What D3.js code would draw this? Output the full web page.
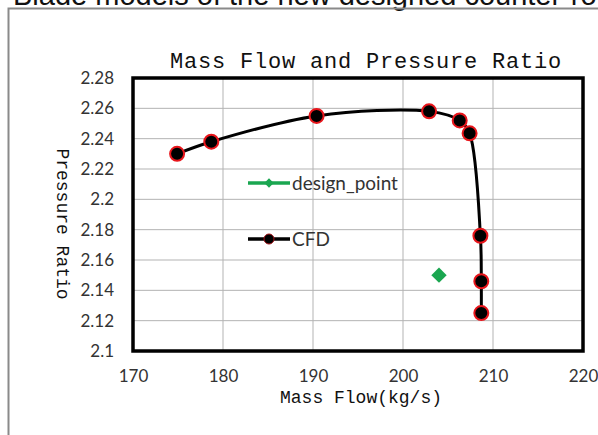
<!DOCTYPE html>
<html>
<head>
<meta charset="utf-8">
<script src="https://cdn.jsdelivr.net/npm/d3@7"></script>
<style>
  body { margin: 0; background: #fff; overflow: hidden; }
  .tick-label { font-family: Lato, "Open Sans", sans-serif; font-size: 17px; fill: #333; }
  .legend-label { font-family: Lato, "Open Sans", sans-serif; font-size: 19px; fill: #333; }
  .mono { font-family: "Liberation Mono", "DejaVu Sans Mono", monospace; fill: #111; }
</style>
</head>
<body>
<script>
let width = 598,
    height = 435;

// CFD operating line
let cfdFlow = [174.9, 178.7, 190.4, 202.9, 206.3, 207.4, 208.6, 208.7, 208.7];
let cfdRatio = [2.230, 2.238, 2.255, 2.258, 2.252, 2.2435, 2.176, 2.146, 2.125];

let designFlow = [204];
let designRatio = [2.15];

let xTicks = [170, 180, 190, 200, 210, 220];
let yTicks = [2.1, 2.12, 2.14, 2.16, 2.18, 2.2, 2.22, 2.24, 2.26, 2.28];

let margin = {left: 133, top: 78, right: 15, bottom: 84};

let svg = d3.select('body').append('svg')
    .attr('width', width)
    .attr('height', height);

// page header that the crop cuts through
svg.append('text')
    .attr('x', 13)
    .attr('y', 5)
    .style('font-family', '"Liberation Sans", Arial, sans-serif')
    .style('font-size', '29px')
    .attr('fill', '#111')
    .text('Blade models of the new designed counter-rotating');

// outer chart frame
svg.append('path')
    .attr('d', 'M8.5,' + height + ' V8.5 H' + width)
    .attr('fill', 'none')
    .attr('stroke', '#8a8a8a')
    .attr('stroke-width', 2);

let x = d3.scaleLinear().domain([170, 220]).range([margin.left, width - margin.right]);
let y = d3.scaleLinear().domain([2.1, 2.28]).range([height - margin.bottom, margin.top]);

// grid
svg.append('g').selectAll('line').data(yTicks.slice(1, -1)).enter().append('line')
    .attr('x1', x(170)).attr('x2', x(220))
    .attr('y1', d => y(d)).attr('y2', d => y(d))
    .attr('stroke', '#b3b3b3').attr('stroke-width', 1);
svg.append('g').selectAll('line').data(xTicks.slice(1, -1)).enter().append('line')
    .attr('y1', y(2.1)).attr('y2', y(2.28))
    .attr('x1', d => x(d)).attr('x2', d => x(d))
    .attr('stroke', '#b3b3b3').attr('stroke-width', 1);

// axes (labels only)
let xAxis = svg.append('g')
    .attr('transform', 'translate(0,' + (y(2.1) + 31) + ')')
    .call(d3.axisBottom(x).tickValues(xTicks).tickSize(0).tickFormat(d3.format('d')));
xAxis.select('.domain').remove();
xAxis.selectAll('text').attr('class', 'tick-label').attr('y', 0).attr('dy', 0);

let yAxis = svg.append('g')
    .attr('transform', 'translate(' + (x(170) - 19) + ',0)')
    .call(d3.axisLeft(y).tickValues(yTicks).tickSize(0).tickFormat(d => String(+d.toFixed(2))));
yAxis.select('.domain').remove();
yAxis.selectAll('text').attr('class', 'tick-label').attr('x', 0);

// plot border
svg.append('rect')
    .attr('x', x(170)).attr('y', y(2.28))
    .attr('width', x(220) - x(170)).attr('height', y(2.1) - y(2.28))
    .attr('fill', 'none').attr('stroke', '#000').attr('stroke-width', 3.5);

// titles
svg.append('text').attr('class', 'mono')
    .attr('x', 366).attr('y', 68)
    .attr('text-anchor', 'middle')
    .style('font-size', '22px').style('letter-spacing', '0.8px')
    .text('Mass Flow and Pressure Ratio');

svg.append('text').attr('class', 'mono')
    .attr('x', 361).attr('y', 403)
    .attr('text-anchor', 'middle')
    .style('font-size', '18px')
    .text('Mass Flow(kg/s)');

svg.append('text').attr('class', 'mono')
    .attr('transform', 'translate(57,224) rotate(90)')
    .attr('text-anchor', 'middle')
    .style('font-size', '18px')
    .text('Pressure Ratio');

// CFD line
let cfd = cfdFlow.map((f, i) => ({f: f, r: cfdRatio[i]}));
let line = d3.line().x(d => x(d.f)).y(d => y(d.r)).curve(d3.curveCatmullRom.alpha(0.5));
svg.append('path')
    .datum(cfd)
    .attr('d', line)
    .attr('fill', 'none').attr('stroke', '#000').attr('stroke-width', 3);

svg.append('g').selectAll('circle').data(cfd).enter().append('circle')
    .attr('cx', d => x(d.f)).attr('cy', d => y(d.r))
    .attr('r', 7)
    .attr('fill', '#000').attr('stroke', '#e8151b').attr('stroke-width', 2);

// design point
let diamond = d3.symbol().type(d3.symbolDiamond2);
svg.append('g').selectAll('path').data(designFlow).enter().append('path')
    .attr('transform', (d, i) => 'translate(' + x(d) + ',' + y(designRatio[i]) + ')')
    .attr('d', diamond.size(150))
    .attr('fill', '#1aa650');

// legend
let legend = svg.append('g').attr('transform', 'translate(248,0)');
legend.append('line').attr('x1', 0).attr('x2', 42).attr('y1', 183).attr('y2', 183)
    .attr('stroke', '#1aa650').attr('stroke-width', 3.5);
legend.append('path').attr('transform', 'translate(21,183)')
    .attr('d', diamond.size(55)).attr('fill', '#1aa650');
legend.append('text').attr('class', 'legend-label').attr('x', 44).attr('y', 189.5).text('design_point');

legend.append('line').attr('x1', 0).attr('x2', 42).attr('y1', 239).attr('y2', 239)
    .attr('stroke', '#000').attr('stroke-width', 3.5);
legend.append('circle').attr('cx', 21).attr('cy', 239).attr('r', 5)
    .attr('fill', '#000').attr('stroke', '#a01015').attr('stroke-width', 1);
legend.append('text').attr('class', 'legend-label').attr('x', 44).attr('y', 245.5).text('CFD');
</script>
</body>
</html>
